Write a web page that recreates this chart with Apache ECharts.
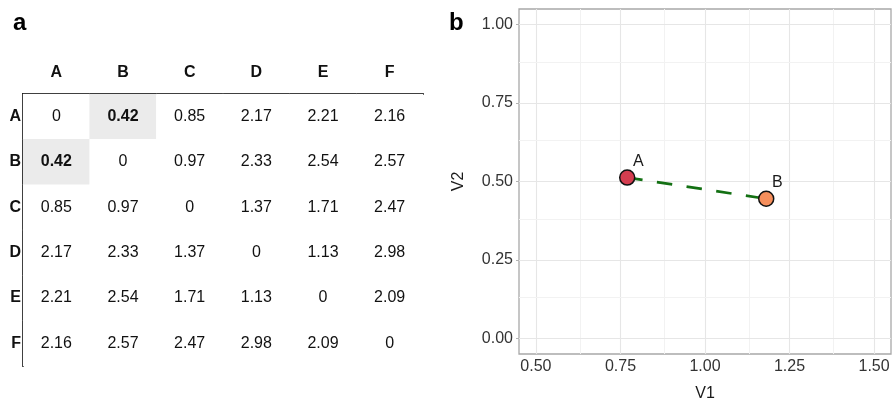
<!DOCTYPE html>
<html>
<head>
<meta charset="utf-8">
<script src="https://cdn.jsdelivr.net/npm/echarts@6/dist/echarts.min.js"></script>
<style>
  html, body { margin: 0; padding: 0; background: #fff; }
  #chart { width: 894px; height: 401px; }
</style>
</head>
<body>
<div id="chart"></div>
<script>
// Labels shared by the distance table rows and columns
const labels = ['A', 'B', 'C', 'D', 'E', 'F'];

// Pairwise distance matrix, one row per label
const rowA = [0, 0.42, 0.85, 2.17, 2.21, 2.16];
const rowB = [0.42, 0, 0.97, 2.33, 2.54, 2.57];
const rowC = [0.85, 0.97, 0, 1.37, 1.71, 2.47];
const rowD = [2.17, 2.33, 1.37, 0, 1.13, 2.98];
const rowE = [2.21, 2.54, 1.71, 1.13, 0, 2.09];
const rowF = [2.16, 2.57, 2.47, 2.98, 2.09, 0];

// Embedding coordinates of the two closest items
const pointNames = ['A', 'B'];
const v1 = [0.770, 1.181];
const v2 = [0.5125, 0.445];
const pointColors = ['#d43d4f', '#f68f5c'];

// Tick values for the embedding plot
const xTicks = [0.5, 0.75, 1.0, 1.25, 1.5];
const xMinor = [0.625, 0.875, 1.125, 1.375];
const yTicks = [0, 0.25, 0.5, 0.75, 1.0];
const yMinor = [0.125, 0.375, 0.625, 0.875];

const FONT = '"Liberation Sans", Arial, Helvetica, sans-serif';

const matrix = [rowA, rowB, rowC, rowD, rowE, rowF];

// Smallest off-diagonal distance gets highlighted
let minDist = Infinity;
matrix.forEach((row, r) => row.forEach((v, c) => { if (r !== c && v < minDist) minDist = v; }));

const cells = [];
matrix.forEach((row, r) => {
  row.forEach((v, c) => {
    const hit = r !== c && v === minDist;
    cells.push({
      value: [c, r, v, hit ? 1 : 0],
      label: { fontWeight: hit ? 'bold' : 'normal' }
    });
  });
});

const fmt2 = v => v.toFixed(2);

const major = { color: '#e6e6e6', width: 1.1, type: 'solid' };
const minor = { color: '#f2f2f2', width: 1, type: 'solid' };
const gridLines = [];
xTicks.forEach(v => gridLines.push({ xAxis: v, lineStyle: major }));
xMinor.forEach(v => gridLines.push({ xAxis: v, lineStyle: minor }));
yTicks.forEach(v => gridLines.push({ yAxis: v, lineStyle: major }));
yMinor.forEach(v => gridLines.push({ yAxis: v, lineStyle: minor }));

const chart = echarts.init(document.getElementById('chart'), null, { renderer: 'canvas' });

chart.setOption({
  animation: false,
  textStyle: { fontFamily: FONT },
  graphic: [
    { type: 'text', left: 13, top: 11, style: { text: 'a', font: 'bold 24px ' + FONT, fill: '#000' } },
    { type: 'text', left: 449, top: 11, style: { text: 'b', font: 'bold 24px ' + FONT, fill: '#000' } }
  ],
  visualMap: {
    show: false,
    type: 'piecewise',
    dimension: 3,
    seriesIndex: 0,
    pieces: [
      { value: 1, color: '#ebebeb' },
      { value: 0, color: '#ffffff' }
    ]
  },
  grid: [
    { left: 23, top: 94, width: 400, height: 272, containLabel: false, outerBoundsMode: 'none' },
    { left: 519, top: 9, width: 372, height: 345, containLabel: false, outerBoundsMode: 'none',
      show: true, backgroundColor: '#fff', borderColor: '#a8a8a8', borderWidth: 1.3 }
  ],
  xAxis: [
    {
      gridIndex: 0, type: 'category', position: 'top', data: labels,
      axisLine: { lineStyle: { color: '#000', width: 2 } },
      axisTick: { show: false },
      splitLine: { show: false },
      axisLabel: { fontWeight: 'bold', fontSize: 16, color: '#111', margin: 13, fontFamily: FONT }
    },
    {
      gridIndex: 1, type: 'value', min: 0.45, max: 1.55,
      name: 'V1', nameLocation: 'middle', nameGap: 32,
      nameTextStyle: { fontSize: 16, color: '#1a1a1a', fontFamily: FONT },
      axisLine: { show: false },
      axisTick: { show: true, customValues: xTicks, length: 3, lineStyle: { color: '#b3b3b3' } },
      splitLine: { show: false },
      axisLabel: { customValues: xTicks, formatter: fmt2, fontSize: 16, color: '#333', margin: 5, fontFamily: FONT }
    }
  ],
  yAxis: [
    {
      gridIndex: 0, type: 'category', inverse: true, data: labels,
      axisLine: { lineStyle: { color: '#000', width: 2 } },
      axisTick: { show: false },
      splitLine: { show: false },
      axisLabel: { fontWeight: 'bold', fontSize: 16, color: '#111', margin: 2, fontFamily: FONT }
    },
    {
      gridIndex: 1, type: 'value', min: -0.05, max: 1.05,
      name: 'V2', nameLocation: 'middle', nameGap: 52, nameRotate: 90,
      nameTextStyle: { fontSize: 16, color: '#1a1a1a', fontFamily: FONT },
      axisLine: { show: false },
      axisTick: { show: true, customValues: yTicks, length: 3, lineStyle: { color: '#b3b3b3' } },
      splitLine: { show: false },
      axisLabel: { customValues: yTicks, formatter: fmt2, fontSize: 16, color: '#333', margin: 6, fontFamily: FONT }
    }
  ],
  series: [
    {
      type: 'heatmap',
      xAxisIndex: 0, yAxisIndex: 0,
      data: cells,
      itemStyle: { borderWidth: 0 },
      label: {
        show: true, fontSize: 16, color: '#111', fontFamily: FONT,
        formatter: p => (p.value[2] === 0 ? '0' : fmt2(p.value[2]))
      },
      emphasis: { disabled: true },
      z: 1
    },
    {
      // panel gridlines, kept underneath the marks
      type: 'scatter',
      xAxisIndex: 1, yAxisIndex: 1,
      data: [],
      silent: true,
      z: 1,
      markLine: {
        z: 1,
        silent: true,
        symbol: ['none', 'none'],
        label: { show: false },
        emphasis: { disabled: true },
        animation: false,
        data: gridLines
      }
    },
    {
      type: 'line',
      xAxisIndex: 1, yAxisIndex: 1,
      data: v1.map((x, i) => [x, v2[i]]),
      symbol: 'none',
      lineStyle: { color: '#137013', width: 2.7, type: [15.5, 14.5] },
      silent: true,
      z: 6
    },
    {
      type: 'scatter',
      xAxisIndex: 1, yAxisIndex: 1,
      symbolSize: 15,
      data: v1.map((x, i) => ({
        name: pointNames[i],
        value: [x, v2[i]],
        itemStyle: { color: pointColors[i] }
      })),
      itemStyle: { borderColor: '#111', borderWidth: 1.5, opacity: 1 },
      label: {
        show: true, position: 'inside', offset: [11, -16],
        formatter: p => p.name,
        fontSize: 16, color: '#1a1a1a', fontFamily: FONT
      },
      emphasis: { disabled: true },
      z: 7
    }
  ]
});
</script>
</body>
</html>
